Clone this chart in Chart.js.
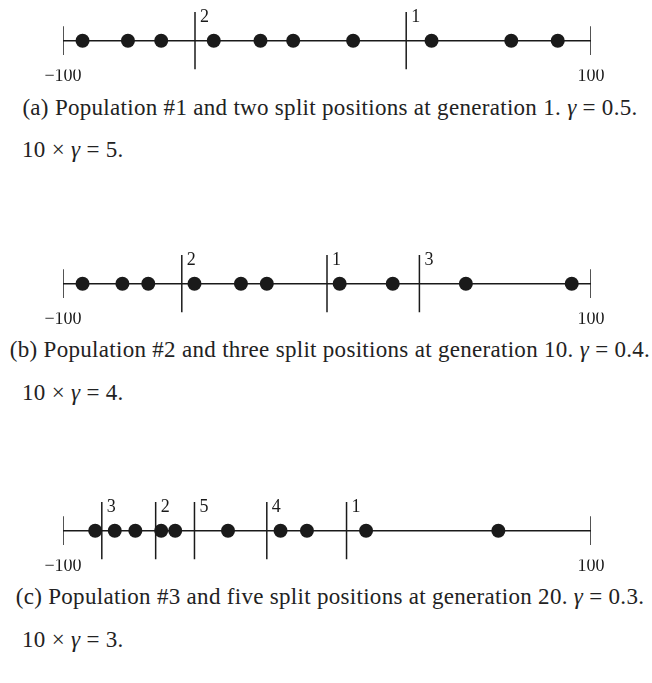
<!DOCTYPE html>
<html>
<head>
<meta charset="utf-8">
<script src="https://cdn.jsdelivr.net/npm/chart.js@4.4.1/dist/chart.umd.min.js"></script>
<style>
body{margin:0;width:652px;height:683px;position:relative;background:#fff;overflow:hidden;font-family:'Liberation Serif',serif;color:#222;}
canvas{position:absolute;left:0;}
.cap{position:absolute;font-size:23px;white-space:nowrap;line-height:26px;letter-spacing:0.3px;}
.c1{left:0;width:660px;text-align:center;}
.c2{left:22px;}
</style>
</head>
<body>
<canvas id="chartA" width="652" height="90" style="top:0px"></canvas>
<div class="cap c1" style="top:95px">(a) Population #1 and two split positions at generation 1. <i>γ</i> = 0.5.</div>
<div class="cap c2" style="top:137px">10 × <i>γ</i> = 5.</div>

<canvas id="chartB" width="652" height="90" style="top:243px"></canvas>
<div class="cap c1" style="top:337px">(b) Population #2 and three split positions at generation 10. <i>γ</i> = 0.4.</div>
<div class="cap c2" style="top:380px">10 × <i>γ</i> = 4.</div>

<canvas id="chartC" width="652" height="90" style="top:490px"></canvas>
<div class="cap c1" style="top:584px">(c) Population #3 and five split positions at generation 20. <i>γ</i> = 0.3.</div>
<div class="cap c2" style="top:627px">10 × <i>γ</i> = 3.</div>

<script>
// axis ends and the two tick labels
const tickValues = [-100, 100];

// population positions
const popA = [-92.6, -75.4, -62.8, -42.9, -25.2, -12.8, 9.9, 39.6, 69.8, 87.4];
const popB = [-92.6, -77.5, -67.7, -50.2, -32.6, -22.8, 4.8, 24.9, 52.6, 92.7];
const popC = [-87.8, -80.4, -72.6, -62.8, -57.5, -37.5, -17.6, -7.6, 14.8, 64.9];

// split positions, in order 1, 2, 3 ...
const splitsA = [30, -50];
const splitsB = [0, -55, 35];
const splitsC = [7.4, -64.9, -85.3, -22.8, -50.2];

const ink = '#1a1a1a';

// writes the split number next to the top of each split line
const splitLabels = {
    id: 'splitLabels',
    afterDatasetsDraw(chart, args, opts) {
        const ctx = chart.ctx;
        const xs = chart.scales.x, ys = chart.scales.y;
        ctx.save();
        ctx.fillStyle = ink;
        ctx.font = '18px "Liberation Serif"';
        ctx.textBaseline = 'top';
        opts.splits.forEach((s, i) => {
            ctx.fillText(String(i + 1), xs.getPixelForValue(s) + 5, ys.getPixelForValue(1) - 4);
        });
        ctx.restore();
    }
};

function seg(x1, y1, x2, y2) {
    return {
        type: 'line',
        data: [{x: x1, y: y1}, {x: x2, y: y2}],
        borderColor: ink,
        borderWidth: 1.5,
        pointRadius: 0
    };
}

function makeChart(id, pop, splits) {
    const datasets = [];
    //the number line itself
    datasets.push(seg(tickValues[0], 0, tickValues[1], 0));
    //short end ticks
    tickValues.forEach(v => datasets.push(seg(v, -0.5, v, 0.5)));
    //long split lines
    splits.forEach(s => datasets.push(seg(s, -1, s, 1)));
    //the individuals
    datasets.push({
        type: 'scatter',
        data: pop.map(v => ({x: v, y: 0})),
        pointRadius: 7,
        pointBackgroundColor: ink,
        pointBorderWidth: 0
    });

    new Chart(document.getElementById(id), {
        data: {datasets: datasets},
        options: {
            responsive: false,
            animation: false,
            layout: {padding: {left: 63, right: 61, top: 12, bottom: 7}},
            plugins: {
                legend: {display: false},
                tooltip: {enabled: false},
                splitLabels: {splits: splits}
            },
            scales: {
                x: {
                    type: 'linear',
                    min: tickValues[0],
                    max: tickValues[1],
                    afterBuildTicks: axis => { axis.ticks = tickValues.map(v => ({value: v})); },
                    grid: {display: false, drawTicks: false},
                    border: {display: false},
                    ticks: {
                        padding: -4,
                        color: ink,
                        font: {family: 'Liberation Serif', size: 18},
                        callback: v => v < 0 ? '\u2212' + Math.abs(v) : String(v)
                    }
                },
                y: {min: -1, max: 1, display: false}
            }
        },
        plugins: [splitLabels]
    });
}

makeChart('chartA', popA, splitsA);
makeChart('chartB', popB, splitsB);
makeChart('chartC', popC, splitsC);
</script>
</body>
</html>
